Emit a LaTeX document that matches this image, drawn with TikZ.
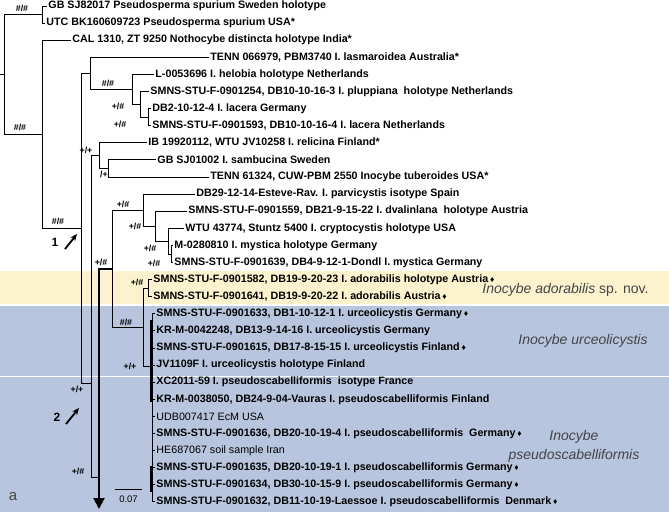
\documentclass[tikz,border=0pt]{standalone}
\usepackage{fontspec}
\setmainfont{Liberation Sans}
\usetikzlibrary{arrows.meta}
\definecolor{bandY}{RGB}{252,242,205}
\definecolor{bandB}{RGB}{183,197,222}
\definecolor{labG}{RGB}{68,68,72}
\newcommand{\dm}{\,{\fontsize{8.5}{9}\selectfont ♦}}
\begin{document}
\begin{tikzpicture}[x=1pt,y=-1pt,line width=0.9pt,
  leaf/.style={anchor=west,inner xsep=1pt,inner ysep=0pt,font=\fontsize{10.7}{12}\selectfont\bfseries},
  leafr/.style={anchor=west,inner xsep=1pt,inner ysep=0pt,font=\fontsize{10.7}{12}\selectfont},
  supp/.style={font=\fontsize{8.8}{9}\selectfont\bfseries,inner sep=0pt},
  clade/.style={font=\fontsize{14}{19}\selectfont,text=labG,inner sep=0pt},
  numlab/.style={font=\fontsize{12}{13}\selectfont\bfseries,inner sep=0pt},
  thickline/.style={line width=2pt},
  marker/.style={line width=1.8pt,-{Stealth[length=7pt,width=6pt]}}]
\useasboundingbox (0,0) rectangle (669,512);
% bands
\fill[bandY] (0,271) rectangle (669,304);
\fill[bandB] (0,306) rectangle (669,375.5);
\fill[bandB] (0,377) rectangle (669,512);
% leaves
\node[leaf] (l0) at (47,6) {GB SJ82017 Pseudosperma spurium Sweden holotype};
\node[leaf] (l1) at (45,23.1) {UTC BK160609723 Pseudosperma spurium USA*};
\node[leaf] (l2) at (71,40.2) {CAL 1310, ZT 9250 Nothocybe distincta holotype India*};
\node[leaf] (l3) at (209,57.3) {TENN 066979, PBM3740 I. lasmaroidea Australia*};
\node[leaf] (l4) at (154,74.4) {L-0053696 I. helobia holotype Netherlands};
\node[leaf] (l5) at (149,91.5) {SMNS-STU-F-0901254, DB10-10-16-3 I. pluppiana~ holotype Netherlands};
\node[leaf] (l6) at (151,108.6) {DB2-10-12-4 I. lacera Germany};
\node[leaf] (l7) at (151,125.7) {SMNS-STU-F-0901593, DB10-10-16-4 I. lacera Netherlands};
\node[leaf] (l8) at (147,142.8) {IB 19920112, WTU JV10258 I. relicina Finland*};
\node[leaf] (l9) at (156,159.9) {GB SJ01002 I. sambucina Sweden};
\node[leaf] (l10) at (209,177.0) {TENN 61324, CUW-PBM 2550 Inocybe tuberoides USA*};
\node[leaf] (l11) at (195,194.1) {DB29-12-14-Esteve-Rav. I. parvicystis isotype Spain};
\node[leaf] (l12) at (187,211.2) {SMNS-STU-F-0901559, DB21-9-15-22 I. dvalinlana~ holotype Austria};
\node[leaf] (l13) at (184,228.3) {WTU 43774, Stuntz 5400 I. cryptocystis holotype USA};
\node[leaf] (l14) at (173,245.4) {M-0280810 I. mystica holotype Germany};
\node[leaf] (l15) at (173,262.5) {SMNS-STU-F-0901639, DB4-9-12-1-Dondl I. mystica Germany};
\node[leaf] (l16) at (152,279.6) {SMNS-STU-F-0901582, DB19-9-20-23 I. adorabilis holotype Austria\dm};
\node[leaf] (l17) at (152,296.7) {SMNS-STU-F-0901641, DB19-9-20-22 I. adorabilis Austria\dm};
\node[leaf] (l18) at (155,313.8) {SMNS-STU-F-0901633, DB1-10-12-1 I. urceolicystis Germany\dm};
\node[leaf] (l19) at (155,330.9) {KR-M-0042248, DB13-9-14-16 I. urceolicystis Germany};
\node[leaf] (l20) at (155,348.0) {SMNS-STU-F-0901615, DB17-8-15-15 I. urceolicystis Finland\dm};
\node[leaf] (l21) at (155,365.1) {JV1109F I. urceolicystis holotype Finland};
\node[leaf] (l22) at (155,382.2) {XC2011-59 I. pseudoscabelliformis~ isotype France};
\node[leaf] (l23) at (155,399.3) {KR-M-0038050, DB24-9-04-Vauras I. pseudoscabelliformis Finland};
\node[leafr] (l24) at (155,416.4) {UDB007417 EcM USA};
\node[leaf] (l25) at (155,433.5) {SMNS-STU-F-0901636, DB20-10-19-4 I. pseudoscabelliformis~ Germany\dm};
\node[leafr] (l26) at (155,450.6) {HE687067 soil sample Iran};
\node[leaf] (l27) at (155,467.7) {SMNS-STU-F-0901635, DB20-10-19-1 I. pseudoscabelliformis Germany\dm};
\node[leaf] (l28) at (155,484.8) {SMNS-STU-F-0901634, DB30-10-15-9 I. pseudoscabelliformis Germany\dm};
\node[leaf] (l29) at (155,501.9) {SMNS-STU-F-0901632, DB11-10-19-Laessoe I. pseudoscabelliformis~ Denmark\dm};
% internal nodes
\coordinate (rs) at (0,74.6);
\coordinate (root) at (4,74.6);
\coordinate (ps) at (42,14.55);
\coordinate (ing) at (42,134.5);
\coordinate (A) at (81,228.7);
\coordinate (B) at (90,73.3);
\coordinate (X) at (132,89.4);
\coordinate (Y) at (140,104.3);
\coordinate (Z) at (148,117.2);
\coordinate (C) at (91.5,383);
\coordinate (D) at (99,155.6);
\coordinate (F) at (108,168.5);
\coordinate (E) at (99,477);
\coordinate (P) at (112,268.6);
\coordinate (Q) at (143,210.1);
\coordinate (Q2) at (155,226.2);
\coordinate (Q3) at (168,241.1);
\coordinate (Q4) at (171,254);
\coordinate (R) at (143,327.1);
\coordinate (AD) at (148,288.2);
\coordinate (S) at (152,366);
\coordinate (tip) at (99,509);
% edges
\draw (rs) -- (root);
\draw (root) |- (ps); \draw (root) |- (ing);
\draw (ps) |- (l0.west); \draw (ps) |- (l1.west);
\draw (ing) |- (l2.west); \draw (ing) |- (A);
\draw (A) |- (B); \draw (A) |- (C);
\draw (B) |- (l3.west); \draw (B) |- (X);
\draw (X) |- (l4.west); \draw (X) |- (Y);
\draw (Y) |- (l5.west); \draw (Y) |- (Z);
\draw (Z) |- (l6.west); \draw (Z) |- (l7.west);
\draw (C) |- (D); \draw (C) |- (E);
\draw (D) |- (l8.west); \draw (D) |- (F);
\draw (F) |- (l9.west); \draw (F) |- (l10.west);
\draw[thickline] (E) |- (P);
\draw[thickline,-{Triangle[length=11pt,width=11pt]}] (E) -- (tip);
\draw (P) |- (Q); \draw (P) |- (R);
\draw (Q) |- (l11.west); \draw (Q) |- (Q2);
\draw (Q2) |- (l12.west); \draw (Q2) |- (Q3);
\draw (Q3) |- (l13.west); \draw (Q3) |- (Q4);
\draw (Q4) |- (l14.west); \draw (Q4) |- (l15.west);
\draw (R) |- (AD); \draw (R) |- (S);
\draw (AD) |- (l16.west); \draw (AD) |- (l17.west);
\foreach \i in {18,...,29} {\draw (S) |- (l\i.west);}
\draw[line width=1.6pt] (151,320) -- (151,402);
\draw[line width=1.6pt] (151,466) -- (151,492);
% support values
\node[supp] (s1) at (22,8) {\#/\#};
\node[supp] (s2) at (20,127) {\#/\#};
\node[supp] (s3) at (58,221) {\#/\#};
\node[supp] (s4) at (108,83) {\#/\#};
\node[supp] (s5) at (118,106) {+/\#};
\node[supp] (s6) at (120,124) {+/\#};
\node[supp] (s7) at (86,150) {+/+};
\node[supp] (s8) at (104,174) {/+};
\node[supp] (s9) at (123,204) {+/\#};
\node[supp] (s10) at (135,226) {+/\#};
\node[supp] (s11) at (150,248) {+/\#};
\node[supp] (s12) at (154,263) {+/\#};
\node[supp] (s13) at (101,262) {+/\#};
\node[supp] (s14) at (137,282) {+/\#};
\node[supp] (s15) at (126,322) {\#/\#};
\node[supp] (s16) at (130,366) {+/+};
\node[supp] (s17) at (77,389) {+/+};
\node[supp] (s18) at (78,471) {+/\#};
% numbered markers
\node[numlab] (n1) at (55,242) {1};
\coordinate (a1s) at (65,249); \coordinate (a1e) at (77,234);
\draw[marker] (a1s) -- (a1e);
\node[numlab] (n2) at (57,417) {2};
\coordinate (a2s) at (66,424); \coordinate (a2e) at (79,408);
\draw[marker] (a2s) -- (a2e);
% scale bar
\coordinate (sb1) at (115,489); \coordinate (sb2) at (142,489);
\draw (sb1) -- (sb2);
\node[font=\fontsize{9.5}{10}\selectfont,inner sep=0pt] (sbl) at (128.5,499) {0.07};
% panel letter
\node[font=\fontsize{15}{16}\selectfont,text=labG,inner sep=0pt] (pa) at (13,497) {a};
% clade labels
\node[clade,anchor=west] (cad) at (482,290) {\textit{Inocybe adorabilis} sp. nov.};
\node[clade,anchor=west] (cur) at (518,341) {\textit{Inocybe urceolicystis}};
\node[clade,align=center] (cps) at (574,446) {\textit{Inocybe}\\\textit{pseudoscabelliformis}};
\end{tikzpicture}
\end{document}
